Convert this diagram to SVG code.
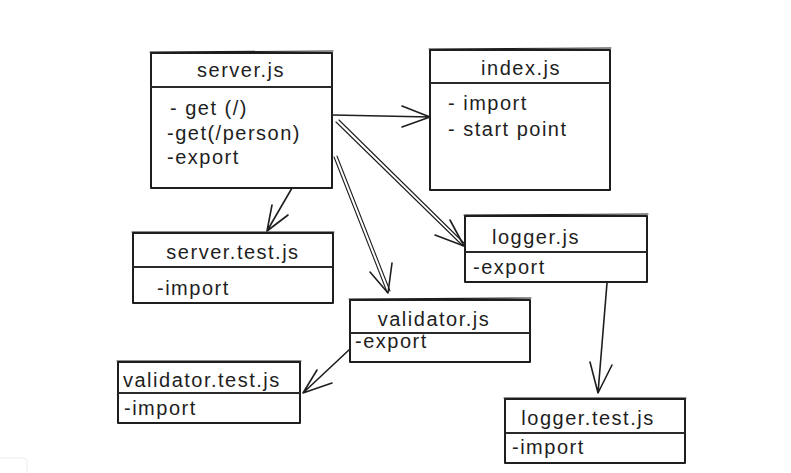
<svg xmlns="http://www.w3.org/2000/svg" width="791" height="473" viewBox="0 0 791 473">
<style>
.box{fill:none;stroke:#1e1e1e;stroke-width:2;stroke-linejoin:round}
.hd{fill:none;stroke:#2a2a2a;stroke-width:2}
.t{font-family:"Liberation Sans","DejaVu Sans",sans-serif;font-size:20px;fill:#1e1e1e;letter-spacing:1.5px}
.tc{text-anchor:middle}
.c{fill:none;stroke:#1e1e1e;stroke-width:1.6;stroke-linecap:round;stroke-linejoin:round}
.c2{fill:none;stroke:#1e1e1e;stroke-width:1.1;stroke-linecap:round}
</style>
<rect width="791" height="473" fill="#ffffff"/>
<rect x="-4" y="458" width="31" height="20" rx="4" fill="#ffffff" stroke="#ececec" stroke-width="1"/>

<g id="connectors">
  <!-- server -> index -->
  <path class="c" d="M333 115 L430 117 M402 106 L430 117 L402 127"/>
  <!-- server -> logger (double line) -->
  <path class="c2" d="M336 122 L463 246 M339 120 L465 244"/>
  <path class="c" d="M435 235 L464 246 L450 220"/>
  <!-- server -> validator (double line) -->
  <path class="c2" d="M334 157 L387 292 M337 156 L390 291"/>
  <path class="c" d="M370 272 L388 293 L392 263"/>
  <!-- server -> server.test -->
  <path class="c" d="M292 188 L267 231 M272 205 L267 231 L288 215"/>
  <!-- validator -> validator.test -->
  <path class="c" d="M350 349 L303 393 M317 370 L303 393 L332 383"/>
  <!-- logger -> logger.test -->
  <path class="c" d="M607 283 L598 393 M590 362 L598 393 L612 365"/>
</g>

<g id="server-js">
  <rect class="box" x="151" y="53" width="181" height="135"/>
  <path class="hd" d="M151 87 L332 87"/>
  <path class="c2" d="M150 52 L333 51"/>
  <text class="t tc" x="241" y="77">server.js</text>
  <text class="t" x="170" y="115">- get (/)</text>
  <text class="t" x="167" y="140">-get(/person)</text>
  <text class="t" x="167" y="164">-export</text>
</g>

<g id="index-js">
  <rect class="box" x="430" y="50" width="180" height="140"/>
  <path class="hd" d="M430 83 L610 83"/>
  <path class="c2" d="M429 49 L611 48"/>
  <text class="t tc" x="521" y="75">index.js</text>
  <text class="t" x="448" y="110">- import</text>
  <text class="t" x="448" y="136">- start point</text>
</g>

<g id="server-test-js">
  <rect class="box" x="133" y="233" width="200" height="70"/>
  <path class="hd" d="M133 267 L333 267"/>
  <path class="c2" d="M132 232 L334 232"/>
  <text class="t tc" x="233" y="259">server.test.js</text>
  <text class="t" x="157" y="295">-import</text>
</g>

<g id="logger-js">
  <rect class="box" x="465" y="216" width="182" height="66"/>
  <path class="hd" d="M465 252 L647 252"/>
  <path class="c2" d="M464 215 L648 214"/>
  <text class="t tc" x="536" y="244">logger.js</text>
  <text class="t" x="473" y="274">-export</text>
</g>

<g id="validator-js">
  <rect class="box" x="350" y="300" width="180" height="62"/>
  <path class="hd" d="M350 333 L530 333"/>
  <path class="c2" d="M349 299 L531 298"/>
  <text class="t tc" x="434" y="326">validator.js</text>
  <text class="t" x="355" y="348">-export</text>
</g>

<g id="validator-test-js">
  <rect class="box" x="118" y="362" width="182" height="61"/>
  <path class="hd" d="M118 393 L300 393"/>
  <path class="c2" d="M117 361 L301 361"/>
  <text class="t" x="123" y="387">validator.test.js</text>
  <text class="t" x="124" y="415">-import</text>
</g>

<g id="logger-test-js">
  <rect class="box" x="505" y="399" width="180" height="64"/>
  <path class="hd" d="M505 433 L685 433"/>
  <path class="c2" d="M504 398 L686 398"/>
  <text class="t tc" x="588" y="425">logger.test.js</text>
  <text class="t" x="512" y="454">-import</text>
</g>
</svg>
